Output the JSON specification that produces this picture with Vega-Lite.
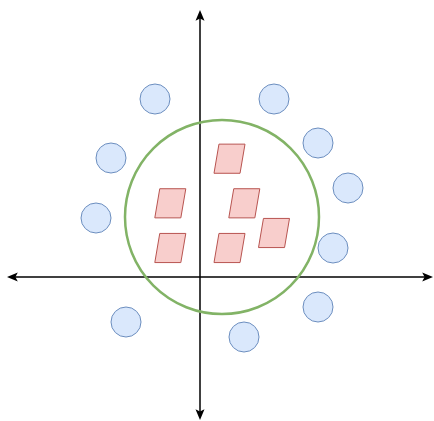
{
  "$schema": "https://vega.github.io/schema/vega-lite/v6.json",
  "width": 434,
  "height": 421,
  "autosize": {"type": "fit", "contains": "padding"},
  "padding": 0,
  "background": "white",
  "config": {"view": {"stroke": null}},
  "datasets": {
    "axes": [
      {"x": -189, "y": 0, "x2": 229, "y2": 0},
      {"x": 0, "y": 263, "x2": 0, "y2": -139}
    ],
    "heads": [
      {"x": 0, "y": 261, "dir": "up"},
      {"x": 0, "y": -137, "dir": "down"},
      {"x": -187, "y": 0, "dir": "left"},
      {"x": 227, "y": 0, "dir": "right"}
    ],
    "boundary": [{"x": 22, "y": 60}],
    "outer": [
      {"x": -45, "y": 178},
      {"x": 74, "y": 178},
      {"x": 118, "y": 134},
      {"x": -89, "y": 119},
      {"x": 148, "y": 89},
      {"x": -104, "y": 59},
      {"x": 133, "y": 29},
      {"x": 118, "y": -30},
      {"x": -74, "y": -45},
      {"x": 44, "y": -60}
    ],
    "inner": [
      {"x": 29.5, "y": 118.3},
      {"x": -29.7, "y": 73.7},
      {"x": 44.3, "y": 73.7},
      {"x": 74, "y": 44},
      {"x": -29.7, "y": 29},
      {"x": 29.5, "y": 29}
    ]
  },
  "encoding": {
    "x": {"field": "x", "type": "quantitative", "axis": null, "scale": {"domain": [-200, 234], "nice": false, "zero": false}},
    "y": {"field": "y", "type": "quantitative", "axis": null, "scale": {"domain": [-144, 277], "nice": false, "zero": false}}
  },
  "layer": [
    {
      "data": {"name": "axes"},
      "mark": {"type": "rule", "color": "#000000", "strokeWidth": 1.5},
      "encoding": {
        "x2": {"field": "x2"},
        "y2": {"field": "y2"}
      }
    },
    {
      "data": {"name": "heads"},
      "mark": {"type": "point", "filled": true, "color": "#000000", "size": 144, "opacity": 1},
      "encoding": {
        "shape": {
          "field": "dir",
          "type": "nominal",
          "legend": null,
          "scale": {
            "domain": ["up", "down", "left", "right"],
            "range": [
              "M 0 -1 L 0.75 0.8 L 0 0.4 L -0.75 0.8 Z",
              "M 0 1 L 0.75 -0.8 L 0 -0.4 L -0.75 -0.8 Z",
              "M -1 0 L 0.8 -0.75 L 0.4 0 L 0.8 0.75 Z",
              "M 1 0 L -0.8 -0.75 L -0.4 0 L -0.8 0.75 Z"
            ]
          }
        }
      }
    },
    {
      "data": {"name": "boundary"},
      "mark": {"type": "point", "shape": "circle", "filled": false, "size": 37636, "stroke": "#82b366", "strokeWidth": 2.5, "opacity": 1}
    },
    {
      "data": {"name": "outer"},
      "mark": {"type": "point", "shape": "circle", "filled": true, "size": 900, "fill": "#dae8fc", "stroke": "#6c8ebf", "strokeWidth": 1, "opacity": 1, "fillOpacity": 1}
    },
    {
      "data": {"name": "inner"},
      "mark": {"type": "point", "shape": "M -0.68 -0.94 L 1 -0.94 L 0.68 0.94 L -1 0.94 Z", "filled": true, "size": 961, "fill": "#f8cecc", "stroke": "#b85450", "strokeWidth": 1, "opacity": 1, "fillOpacity": 1}
    }
  ]
}
